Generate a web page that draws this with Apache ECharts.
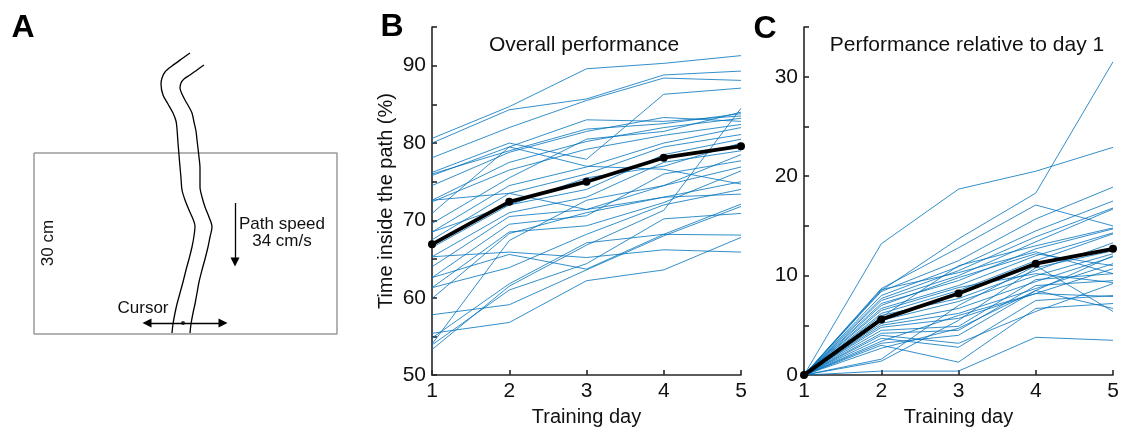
<!DOCTYPE html>
<html>
<head>
<meta charset="utf-8">
<title>Tracking task performance</title>
<script src="https://cdn.jsdelivr.net/npm/echarts@6/dist/echarts.min.js"></script>
<style>
  html, body { margin: 0; padding: 0; background: #fff; }
  #chart { width: 1124px; height: 432px; }
</style>
</head>
<body>
<div id="chart"></div>
<script>
// training days (x axis of B and C)
const days = [1, 2, 3, 4, 5];

// B: time inside the path (%) per subject, days 1-5
const overall = [
    [80.6, 84.7, 89.6, 90.3, 91.3],
    [80.0, 84.3, 85.7, 88.8, 89.3],
    [78.1, 82.0, 85.5, 88.4, 88.1],
    [76.2, 80.0, 77.9, 86.3, 87.1],
    [75.8, 79.5, 83.0, 82.8, 83.5],
    [76.0, 79.0, 81.8, 82.5, 83.8],
    [74.5, 78.8, 81.5, 83.3, 82.8],
    [72.6, 77.5, 80.2, 82.0, 83.2],
    [72.4, 76.5, 79.2, 81.0, 82.4],
    [70.9, 79.5, 77.0, 76.6, 74.7],
    [69.6, 75.5, 80.5, 81.5, 84.0],
    [68.5, 74.5, 76.9, 80.0, 82.0],
    [67.5, 73.5, 76.0, 79.5, 81.1],
    [66.5, 72.0, 74.0, 78.5, 80.5],
    [65.3, 71.0, 73.0, 77.5, 79.0],
    [64.0, 70.5, 71.4, 74.5, 78.5],
    [62.6, 69.5, 70.6, 76.0, 77.7],
    [61.3, 68.5, 69.3, 72.3, 76.4],
    [59.9, 68.3, 71.0, 73.0, 73.4],
    [65.3, 65.9, 65.2, 66.2, 65.9],
    [62.6, 65.6, 63.7, 68.2, 68.1],
    [57.8, 59.1, 63.6, 68.0, 71.8],
    [55.4, 56.8, 62.2, 63.6, 67.8],
    [54.8, 61.8, 67.1, 68.2, 72.1],
    [53.3, 61.5, 66.8, 71.3, 84.5],
    [53.9, 61.0, 64.4, 70.2, 70.9],
    [54.0, 67.4, 72.6, 74.5, 76.9],
    [61.3, 63.9, 68.2, 72.0, 74.0],
    [72.6, 73.5, 71.4, 73.0, 75.0],
    [68.5, 72.0, 75.5, 77.0, 80.0]
];
const overallMean = [66.9, 72.4, 75.0, 78.1, 79.6];

// C: performance relative to day 1 per subject
const relative = [
    [0, 13.2, 18.7, 20.5, 22.9],
    [0, 8.5, 13.7, 18.3, 31.5],
    [0, 8.7, 12.8, 17.1, 15.0],
    [0, 8.4, 11.5, 15.7, 18.9],
    [0, 8.0, 10.9, 14.5, 17.5],
    [0, 7.7, 10.5, 13.9, 16.8],
    [0, 7.5, 10.0, 13.4, 16.7],
    [0, 7.2, 9.5, 12.7, 14.7],
    [0, 6.7, 9.0, 12.0, 14.3],
    [0, 6.2, 8.5, 11.5, 14.2],
    [0, 6.0, 7.7, 10.5, 13.3],
    [0, 5.5, 7.4, 10.0, 12.2],
    [0, 5.2, 6.7, 9.4, 11.9],
    [0, 5.0, 6.2, 8.7, 11.2],
    [0, 4.8, 5.7, 8.2, 10.7],
    [0, 4.5, 4.9, 9.6, 10.2],
    [0, 4.2, 4.5, 9.0, 9.5],
    [0, 4.0, 3.2, 6.4, 9.2],
    [0, 3.7, 2.8, 7.5, 8.0],
    [0, 3.4, 6.0, 8.2, 7.9],
    [0, 3.0, 1.3, 6.7, 7.2],
    [0, 2.7, 4.7, 8.5, 6.7],
    [0, 1.6, 7.0, 11.0, 6.4],
    [0, 1.4, 5.5, 10.8, 12.5],
    [0, 0.4, 0.4, 3.8, 3.5],
    [0, 8.6, 10.3, 12.4, 10.2],
    [0, 6.5, 8.8, 10.2, 9.3],
    [0, 5.8, 11.0, 13.0, 14.8],
    [0, 3.2, 4.0, 8.5, 12.0],
    [0, 7.0, 9.8, 12.2, 11.0]
];
const relativeMean = [0, 5.6, 8.2, 11.2, 12.7];

// A: task schematic, in drawing units (y grows downward)
const screenBox = [[34, 153], [337, 153], [337, 334], [34, 334], [34, 153]];
const leftWall = [
    [190, 53], [183, 58], [172, 66], [165, 72], [162, 78], [161, 84], [163, 95], [168, 104],
    [173, 113], [176, 121], [177, 129], [178, 143], [179, 155], [180, 167], [181, 178],
    [182, 190], [185, 200], [189, 210], [193, 219], [195, 226], [194, 236], [192, 247],
    [189, 259], [186, 270], [183, 282], [180, 293], [177, 304], [175, 313], [173, 324], [172, 333]
];
const rightWall = [
    [204, 65], [197, 70], [190, 75], [184, 79], [181, 83], [180, 88], [182, 94], [185, 100],
    [189, 107], [192, 113], [194, 122], [196, 131], [197, 140], [199, 157], [200, 168],
    [200, 177], [200, 187], [202, 197], [205, 207], [209, 217], [212, 227], [210, 237],
    [208, 247], [205, 259], [202, 270], [199, 282], [197, 293], [195, 304], [193, 313],
    [191, 324], [190, 333]
];
const speedArrow = [[235, 203], [235, 262]];
const cursorArrow = [[147, 323], [223, 323]];
const cursorDot = [183, 323];

const FONT = 'Liberation Sans, Arial, Helvetica, sans-serif';
const AXIS_COLOR = '#262626';
const SUBJECT_COLOR = '#0072BD';

let chart;

function init() {
    chart = echarts.init(document.getElementById('chart'), null, { renderer: 'canvas' });
    chart.setOption(buildOption());
}

// value axis for panels B and C
function dataAxis(gridIndex, opts) {
    return Object.assign({
        gridIndex: gridIndex,
        type: 'value',
        axisLine: { show: true, lineStyle: { color: AXIS_COLOR, width: 1.6 } },
        axisTick: { show: true, inside: true, length: 5, lineStyle: { color: AXIS_COLOR, width: 1.6 } },
        axisLabel: { color: '#111', fontSize: 21, fontFamily: FONT, margin: 6 },
        splitLine: { show: false },
        nameLocation: 'middle',
        nameTextStyle: { color: '#111', fontSize: 20, fontFamily: FONT }
    }, opts);
}

function subjectSeries(rows, axisIndex) {
    return rows.map((row, i) => ({
        name: 's' + axisIndex + '_' + i,
        type: 'line',
        xAxisIndex: axisIndex,
        yAxisIndex: axisIndex,
        data: days.map((d, k) => [d, row[k]]),
        symbol: 'none',
        silent: true,
        lineStyle: { color: SUBJECT_COLOR, width: 0.8 },
        z: 2
    }));
}

function meanSeries(values, axisIndex) {
    return {
        name: 'mean' + axisIndex,
        type: 'line',
        xAxisIndex: axisIndex,
        yAxisIndex: axisIndex,
        data: days.map((d, k) => [d, values[k]]),
        symbol: 'circle',
        symbolSize: 8,
        itemStyle: { color: '#000' },
        lineStyle: { color: '#000', width: 3.8 },
        z: 5
    };
}

function wallSeries(points) {
    return {
        type: 'line',
        xAxisIndex: 0,
        yAxisIndex: 0,
        data: points,
        symbol: 'none',
        smooth: 0.3,
        silent: true,
        lineStyle: { color: '#000', width: 1.3 }
    };
}

function arrowSeries(coords, symbols) {
    return {
        type: 'lines',
        coordinateSystem: 'cartesian2d',
        xAxisIndex: 0,
        yAxisIndex: 0,
        symbol: symbols,
        symbolSize: 9,
        silent: true,
        lineStyle: { color: '#000', width: 1.3, opacity: 1 },
        data: [{ coords: coords }]
    };
}

function textItem(text, x, y, font, extra) {
    return Object.assign({
        type: 'text',
        x: x,
        y: y,
        style: {
            text: text,
            fill: '#111',
            font: font,
            textAlign: 'center',
            textVerticalAlign: 'middle'
        }
    }, extra);
}

function buildOption() {
    const series = [
        {
            type: 'line',
            xAxisIndex: 0,
            yAxisIndex: 0,
            data: screenBox,
            symbol: 'none',
            silent: true,
            lineStyle: { color: '#9a9a9a', width: 1.5 }
        },
        wallSeries(leftWall),
        wallSeries(rightWall),
        arrowSeries(speedArrow, ['none', 'triangle']),
        arrowSeries(cursorArrow, ['triangle', 'triangle']),
        {
            type: 'scatter',
            xAxisIndex: 0,
            yAxisIndex: 0,
            data: [cursorDot],
            symbolSize: 4,
            itemStyle: { color: '#000' },
            silent: true
        }
    ]
        .concat(subjectSeries(overall, 1))
        .concat([meanSeries(overallMean, 1)])
        .concat(subjectSeries(relative, 2))
        .concat([meanSeries(relativeMean, 2)]);

    const hideLabel = v => (v % 10 === 0 ? String(v) : '');
    const bold = 'bold 32px ' + FONT;
    const small = '17px ' + FONT;
    const title = '21px ' + FONT;

    return {
        animation: false,
        backgroundColor: '#fff',
        textStyle: { fontFamily: FONT },
        grid: [
            { left: 0, top: 0, width: 370, height: 432 },
            { left: 432, top: 27, width: 309, height: 350 },
            { left: 804, top: 27, width: 309, height: 350 }
        ],
        xAxis: [
            { gridIndex: 0, type: 'value', min: 0, max: 370, show: false },
            dataAxis(1, { min: 1, max: 5, interval: 1, name: 'Training day', nameGap: 27 }),
            dataAxis(2, { min: 1, max: 5, interval: 1, name: 'Training day', nameGap: 27 })
        ],
        yAxis: [
            { gridIndex: 0, type: 'value', min: 0, max: 432, inverse: true, show: false },
            dataAxis(1, {
                min: 50, max: 95, interval: 5,
                name: 'Time inside the path (%)', nameGap: 36,
                axisLabel: { color: '#111', fontSize: 21, fontFamily: FONT, margin: 6, formatter: hideLabel }
            }),
            dataAxis(2, {
                min: 0, max: 35, interval: 5,
                axisLabel: { color: '#111', fontSize: 21, fontFamily: FONT, margin: 6, formatter: hideLabel }
            })
        ],
        graphic: [
            textItem('A', 23, 28, bold, { style: { text: 'A', fill: '#000', font: bold, textAlign: 'center', textVerticalAlign: 'middle' } }),
            textItem('B', 392, 27, bold, { style: { text: 'B', fill: '#000', font: bold, textAlign: 'center', textVerticalAlign: 'middle' } }),
            textItem('C', 765, 29, bold, { style: { text: 'C', fill: '#000', font: bold, textAlign: 'center', textVerticalAlign: 'middle' } }),
            textItem('Overall performance', 584, 45, title),
            textItem('Performance relative to day 1', 967, 45, title),
            textItem('Path speed', 282, 224, small),
            textItem('34 cm/s', 282, 241, small),
            textItem('Cursor', 143, 308, small),
            textItem('30 cm', 48, 243, small, { rotation: Math.PI / 2 })
        ],
        series: series
    };
}

document.addEventListener('DOMContentLoaded', init);
</script>
</body>
</html>
